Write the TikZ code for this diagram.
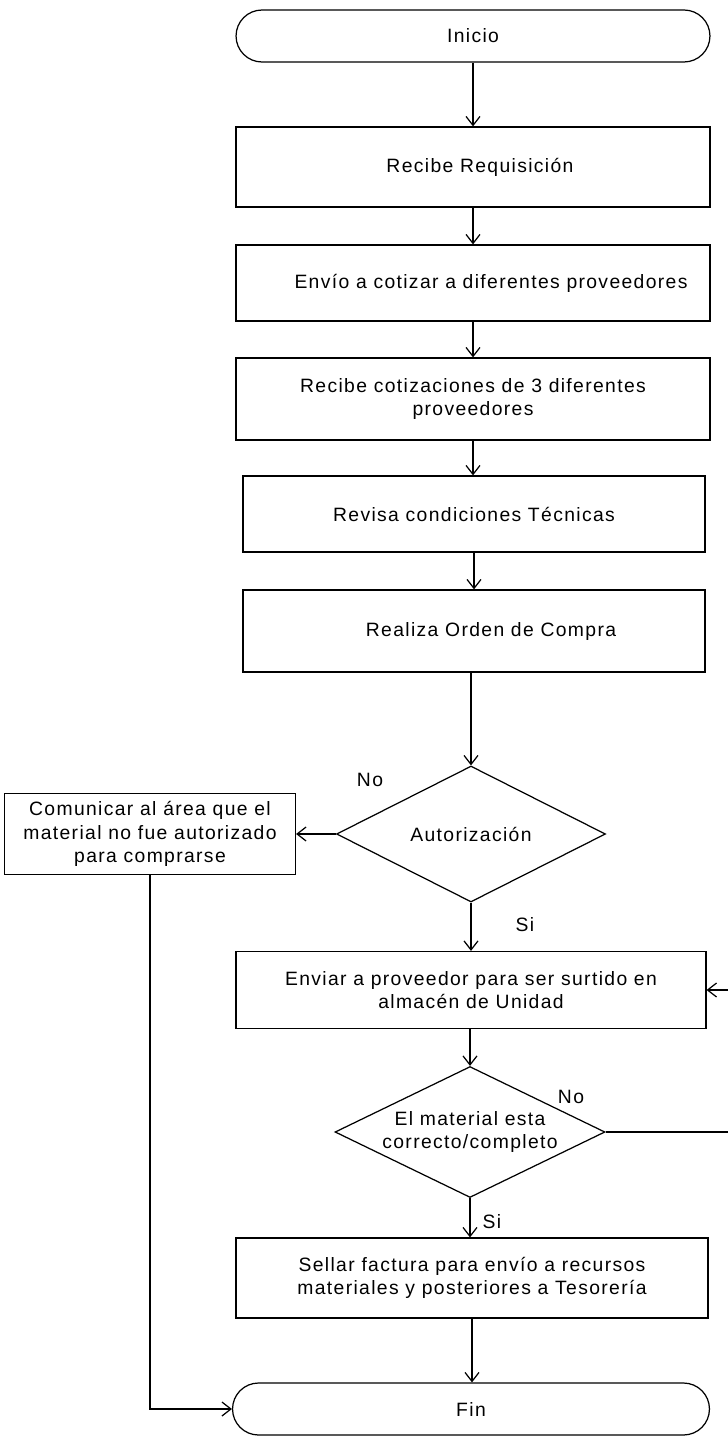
\documentclass[tikz,border=0pt]{standalone}
\usepackage{fontspec}
\setmainfont{Liberation Sans}[LetterSpace=7]
\usetikzlibrary{shapes.geometric,arrows.meta}

\begin{document}
\begin{tikzpicture}[x=0.02cm,y=-0.02cm,
  base/.style={draw,line width=0.7pt,align=center,inner sep=0pt,
    font=\fontsize{11}{13.5}\selectfont},
  proc/.style={base,rectangle,minimum width=9.48cm,minimum height=1.6cm},
  term/.style={base,rectangle,rounded corners=0.52cm,minimum height=1.04cm},
  dec/.style={base,diamond,aspect=2},
  lbl/.style={font=\fontsize{11}{13.5}\selectfont,inner sep=0pt},
  arr/.style={line width=0.7pt,-{Straight Barb[length=1.8mm,width=2.8mm]}},
  ln/.style={line width=0.7pt}]

\useasboundingbox (0,0) rectangle (727,1436);

% main column
\node[term,minimum width=9.48cm] (inicio) at (473,36) {Inicio};
\node[proc,minimum height=1.6cm,
  label={[lbl,xshift=0.14cm]center:Recibe Requisición}] (b1) at (473,167) {};
\node[proc,minimum height=1.52cm,
  label={[lbl,xshift=0.36cm]center:Envío a cotizar a diferentes proveedores}] (b2) at (473,283) {};
\node[proc,minimum height=1.64cm] (b3) at (473,399)
  {Recibe cotizaciones de 3 diferentes\\proveedores};
\node[proc,minimum width=9.24cm,minimum height=1.52cm] (b4) at (474,514)
  {Revisa condiciones Técnicas};
\node[proc,minimum width=9.24cm,minimum height=1.64cm,
  label={[lbl,xshift=0.34cm]center:Realiza Orden de Compra}] (b5) at (474,631) {};
\node[dec,minimum width=5.38cm,minimum height=2.72cm] (d1) at (471,834) {Autorización};
\node[proc,minimum width=5.82cm,minimum height=1.62cm] (izq) at (150,834)
  {Comunicar al área que el\\material no fue autorizado\\para comprarse};
\node[proc,minimum width=9.4cm,minimum height=1.54cm] (b6) at (471,990)
  {Enviar a proveedor para ser surtido en\\almacén de Unidad};
\node[dec,minimum width=5.4cm,minimum height=2.62cm] (d2) at (470,1132)
  {El material esta\\correcto/completo};
\node[proc,minimum width=9.44cm,minimum height=1.6cm] (b7) at (472,1278)
  {Sellar factura para envío a recursos\\materiales y posteriores a Tesorería};
\node[term,minimum width=9.54cm] (fin) at (471,1409) {Fin};

% branch labels
\node[lbl] (no1) at (370,780) {No};
\node[lbl] (si1) at (525,925) {Si};
\node[lbl] (no2) at (571,1097) {No};
\node[lbl] (si2) at (492,1222) {Si};

% loop-back corners at the right margin
\coordinate (r1) at (729,1132);
\coordinate (r2) at (729,990);
\coordinate (l1) at (150,1409);

% connectors
\draw[arr] (inicio) -- (b1);
\draw[arr] (b1) -- (b2);
\draw[arr] (b2) -- (b3);
\draw[arr] (b3.south) -- (b3.south |- b4.north);
\draw[arr] (b4) -- (b5);
\draw[arr] (b5.south) -- (b5.south -| d1.north) -- (d1.north);
\draw[arr] (d1.west) -- (izq.east);
\draw[arr] (d1.south) -- (d1.south |- b6.north);
\draw[arr] (b6.south) -- (b6.south -| d2.north) -- (d2.north);
\draw[arr] (d2.south) -- (d2.south |- b7.north);
\draw[arr] (b7.south) -- (b7.south |- fin.north);
\draw[arr] (d2.east) -- (r1) -- (r2) -- (b6.east);
\draw[arr] (izq.south) -- (l1) -- (fin.west);
\end{tikzpicture}
\end{document}
